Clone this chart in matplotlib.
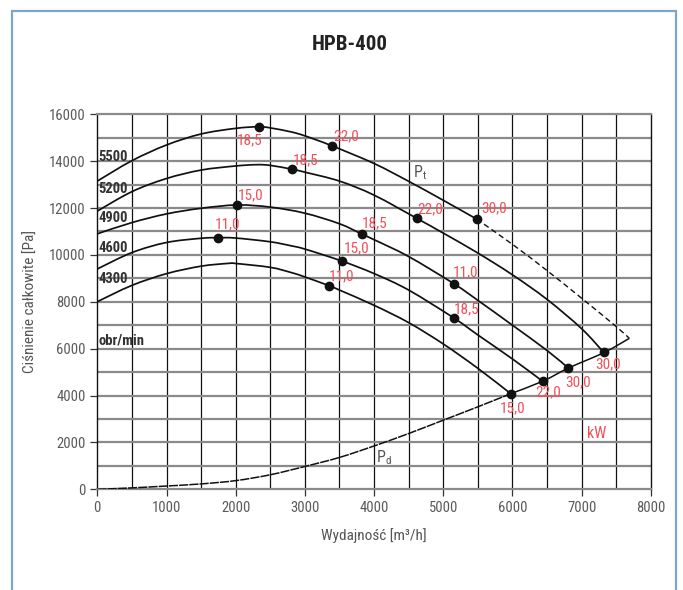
import matplotlib
matplotlib.use("Agg")
import matplotlib.pyplot as plt
from matplotlib import font_manager
from matplotlib.patches import Rectangle, PathPatch
from matplotlib.path import Path

# ---------------- data ----------------
flow_5500 = [0, 500, 1000, 1500, 2000, 2337, 2500, 2800, 3000, 3387, 4000, 4500, 5000, 5482]
p_5500 = [13150, 14020, 14690, 15160, 15400, 15470, 15420, 15250, 15080, 14660, 13900, 13140, 12330, 11530]
flow_5500_ext = [5482, 6000, 6500, 7000, 7500, 7688]
p_5500_ext = [11530, 10450, 9330, 8150, 6940, 6440]

flow_5200 = [0, 500, 1000, 1500, 2000, 2300, 2500, 2818, 3000, 3500, 4000, 4615, 5000, 5500, 6000, 6500, 7000, 7322]
p_5200 = [11870, 12700, 13260, 13620, 13795, 13850, 13820, 13654, 13530, 13150, 12550, 11564, 10930, 10080, 9150, 8100, 6850, 5829]

flow_4900 = [0, 500, 1000, 1500, 2023, 2500, 3000, 3500, 3829, 4000, 4500, 5159, 5500, 6000, 6500, 6806]
p_4900 = [10900, 11380, 11750, 11990, 12131, 12040, 11780, 11330, 10881, 10650, 9930, 8760, 8060, 7000, 5920, 5176]

flow_4600 = [0, 500, 1000, 1500, 1740, 2000, 2500, 2800, 3000, 3531, 4000, 4500, 5159, 5500, 6000, 6436]
p_4600 = [9400, 10100, 10530, 10710, 10736, 10720, 10560, 10390, 10250, 9742, 9203, 8500, 7297, 6584, 5560, 4608]

flow_4300 = [0, 500, 1000, 1500, 1900, 2000, 2500, 2800, 3000, 3348, 3500, 4000, 4500, 5000, 5500, 5974]
p_4300 = [8006, 8700, 9200, 9520, 9640, 9635, 9470, 9250, 9060, 8688, 8500, 7850, 7110, 6200, 5160, 4080]

flow_pd = [0, 500, 1000, 1500, 2000, 2500, 3000, 3500, 4000, 4500, 5000, 5500, 5974]
p_pd = [0, 60, 140, 230, 370, 620, 975, 1360, 1850, 2380, 2950, 3520, 4080]
flow_pd_end = [5974, 6436, 6806, 7326, 7688]
p_pd_end = [4080, 4610, 5170, 5840, 6440]

speeds = ["5500", "5200", "4900", "4600", "4300"]
speed_label_y = [14180, 12810, 11575, 10300, 8970]

# power points: (flow, pressure, label)
pt_flow = [2337, 3387, 5482, 2818, 4615, 7326, 2023, 3829, 5159, 6806, 1740, 3531, 5159, 6436, 3348, 5974]
pt_press = [15470, 14660, 11530, 13654, 11564, 5840, 12131, 10881, 8760, 5170, 10736, 9742, 7297, 4610, 8688, 4080]
pt_label = ["18,5", "22,0", "30,0", "18,5", "22,0", "30,0", "15,0", "18,5", "11,0", "30,0",
            "11,0", "15,0", "18,5", "22,0", "11,0", "15,0"]
pt_offset = [(-9, -14), (14, 9), (17, 11), (13, 9), (13, 9), (4, -12), (13, 10), (12, 11), (11, 12), (10, -14),
             (10, 13), (15, 13), (12, 9), (5, -11), (13, 9), (2, -15)]

x_ticks = [0, 1000, 2000, 3000, 4000, 5000, 6000, 7000, 8000]
y_ticks = [0, 2000, 4000, 6000, 8000, 10000, 12000, 14000, 16000]

# ---------------- fonts ----------------
avail = {f.name for f in font_manager.fontManager.ttflist}
fam = None
for cand in ["Roboto Condensed", "Liberation Sans Narrow", "Open Sans Condensed", "DejaVu Sans Condensed", "Roboto", "DejaVu Sans"]:
    if cand in avail:
        fam = cand
        break
plt.rcParams['font.family'] = [fam, 'DejaVu Sans']

RED = '#f0505a'
GRAY_TXT = '#555555'


def smooth_path(xs, ys):
    """Smooth curve through the given points (Catmull-Rom drawn as Bezier segments)."""
    pts = list(zip(xs, ys))
    n = len(pts)
    verts = [pts[0]]
    codes = [Path.MOVETO]
    for i in range(n - 1):
        p0 = pts[i - 1] if i > 0 else pts[i]
        p1 = pts[i]
        p2 = pts[i + 1]
        p3 = pts[i + 2] if i + 2 < n else pts[i + 1]
        c1 = (p1[0] + (p2[0] - p0[0]) / 6.0, p1[1] + (p2[1] - p0[1]) / 6.0)
        c2 = (p2[0] - (p3[0] - p1[0]) / 6.0, p2[1] - (p3[1] - p1[1]) / 6.0)
        verts += [c1, c2, p2]
        codes += [Path.CURVE4] * 3
    return Path(verts, codes)


def draw_curve(ax, xs, ys, **kw):
    patch = PathPatch(smooth_path(xs, ys), fill=False, transform=ax.transData, **kw)
    ax.add_patch(patch)


fig = plt.figure(figsize=(6.83, 5.90), dpi=100)
ax = fig.add_axes([97.3 / 683, 1 - 489.3 / 590, (650.9 - 97.3) / 683, (489.3 - 114.3) / 590])
ax.set_xlim(0, 8000)
ax.set_ylim(0, 16000)

# grid
for xv in range(500, 8000, 500):
    ax.axvline(xv, color='#111111', lw=0.9, zorder=1)
for yv in range(1000, 16000, 1000):
    ax.axhline(yv, color='#8a8a8a', lw=1.6, zorder=1)

for s in ['left', 'right']:
    ax.spines[s].set_color('#111111')
    ax.spines[s].set_linewidth(1.0)
for s in ['top', 'bottom']:
    ax.spines[s].set_color('#8a8a8a')
    ax.spines[s].set_linewidth(1.6)

ax.set_xticks(x_ticks)
ax.set_yticks(y_ticks)
ax.set_xticklabels([str(v) for v in x_ticks])
ax.set_yticklabels([str(v) for v in y_ticks])
ax.tick_params(axis='both', labelcolor='#5a5a5a', labelsize=10.5, length=5, width=0.9, direction='out', color='#333333')

lw = 1.25
kc = dict(edgecolor='#111111', zorder=3)
draw_curve(ax, flow_5500, p_5500, lw=lw, **kc)
draw_curve(ax, flow_5500_ext, p_5500_ext, lw=1.0, ls=(0, (4, 2.5)), **kc)
draw_curve(ax, flow_5200, p_5200, lw=lw, **kc)
draw_curve(ax, flow_4900, p_4900, lw=lw, **kc)
draw_curve(ax, flow_4600, p_4600, lw=lw, **kc)
draw_curve(ax, flow_4300, p_4300, lw=lw, **kc)
draw_curve(ax, flow_pd, p_pd, lw=1.1, ls=(0, (6, 0.7)), **kc)
draw_curve(ax, flow_pd_end, p_pd_end, lw=1.1, **kc)

ax.plot(pt_flow, pt_press, 'o', color='#111111', ms=6, zorder=4)
for fx, py, lab, off in zip(pt_flow, pt_press, pt_label, pt_offset):
    ax.annotate(lab, (fx, py), xytext=off, textcoords='offset pixels', color=RED,
                fontsize=11, ha='center', va='center', zorder=5)

for sp, yy in zip(speeds, speed_label_y):
    ax.text(15, yy, sp, fontsize=10.5, fontweight='bold', color='#333333', ha='left', va='center', zorder=5)
ax.text(15, 6370, "obr/min", fontsize=10.5, fontweight='bold', color='#333333', ha='left', va='center', zorder=5)

ax.text(4663, 13500, r"P$_\mathregular{t}$", fontsize=11.5, color=GRAY_TXT, ha='center', va='center', zorder=5)
ax.text(4143, 1330, r"P$_\mathregular{d}$", fontsize=11.5, color=GRAY_TXT, ha='center', va='center', zorder=5)
ax.text(7221, 2400, "kW", fontsize=11.5, color=RED, ha='center', va='center', zorder=5)

ax.set_xlabel("Wydajność [m³/h]", fontsize=11, color=GRAY_TXT, labelpad=9)
ax.set_ylabel("Ciśnienie całkowite [Pa]", fontsize=11, color=GRAY_TXT, labelpad=8)

fig.text(350 / 683, 1 - 44 / 590, "HPB-400", fontsize=15, fontweight='bold', color='#222222', ha='center', va='center')

fig.patches.append(Rectangle((12 / 683, -0.05), (676 - 12) / 683, 1.05 - 11 / 590, transform=fig.transFigure,
                             fill=False, edgecolor='#7fa5cc', lw=1.6, zorder=0))

fig.savefig("out.png", dpi=100)
